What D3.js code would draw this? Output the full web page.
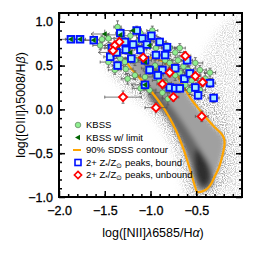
<!DOCTYPE html>
<html>
<head>
<meta charset="utf-8">
<script src="https://cdn.jsdelivr.net/npm/d3@7"></script>
<style>
  body { margin: 0; background: #fff; }
  svg { display: block; }
  text { font-family: "Liberation Sans", Arial, sans-serif; fill: #000; }
</style>
</head>
<body>
<div class="chart"></div>
<script>
var xDomain = [-2.0, 0.0];
var yDomain = [-1.0, 1.1];
var xTicks = [-2.0, -1.5, -1.0, -0.5];
var yTicks = [-1.0, -0.5, 0.0, 0.5, 1.0];

// SDSS locus, drawn as nested shaded outlines [x, y]
var sdssAgnHaze = [[-0.46,0.45],[-0.33,0.79],[-0.15,1.02],[0,1.09],[0,-1.0],[-0.15,-1.0],[-0.11,-0.47],[-0.19,-0.01]];
var sdssHaze = [[-1.46,0.64],[-1.28,0.67],[-1.01,0.69],[-0.62,0.60],[-0.40,0.40],[-0.22,0.04],[-0.09,-0.36],[-0.13,-0.78],[-0.28,-1.0],[-0.58,-1.0],[-0.65,-0.76],[-0.74,-0.47],[-0.86,-0.22],[-1.03,0.01],[-1.22,0.19],[-1.41,0.39],[-1.48,0.53]];
var sdssCore = [[-1.01,0.24],[-0.81,0.08],[-0.62,-0.19],[-0.46,-0.45],[-0.33,-0.68],[-0.32,-0.86],[-0.43,-0.93],[-0.50,-0.85],[-0.57,-0.59],[-0.68,-0.34],[-0.84,-0.07],[-1.03,0.15]];
var sdssPeak = [[-0.50,-0.45],[-0.38,-0.62],[-0.35,-0.79],[-0.41,-0.88],[-0.48,-0.81],[-0.52,-0.60]];
var sdssContour90 = [[-1.25,0.54],[-1.11,0.35],[-0.98,0.19],[-0.84,-0.01],[-0.73,-0.22],[-0.64,-0.45],[-0.57,-0.68],[-0.51,-0.89],[-0.49,-0.94],[-0.40,-0.92],[-0.35,-0.87],[-0.30,-0.77],[-0.25,-0.66],[-0.21,-0.51],[-0.19,-0.37],[-0.21,-0.30],[-0.33,-0.17],[-0.46,-0.01],[-0.57,0.14],[-0.64,0.27],[-0.73,0.42],[-0.79,0.50],[-0.95,0.58],[-1.11,0.59]];

// KBSS detections [x, y, xerr, yerr]
var kbss = [[-1.36,0.94,0.04,0.07],[-1.11,0.87,0.08,0.05],[-1.53,0.80,0.10,0.04],[-1.46,0.81,0.06,0.05],[-1.31,0.81,0.08,0.04],[-1.22,0.84,0.07,0.05],[-1.55,0.73,0.08,0.05],[-1.44,0.70,0.10,0.06],[-1.27,0.46,0.08,0.06],[-1.06,0.37,0.10,0.06],[-1.14,0.77,0.06,0.05],[-1.03,0.79,0.07,0.05],[-0.92,0.77,0.09,0.06],[-0.94,0.70,0.06,0.05],[-0.79,0.70,0.08,0.05],[-0.68,0.70,0.06,0.05],[-0.73,0.65,0.09,0.06],[-0.84,0.56,0.07,0.05],[-0.79,0.53,0.08,0.05],[-0.70,0.56,0.06,0.05],[-0.95,0.50,0.08,0.06],[-1.03,0.47,0.07,0.05],[-0.64,0.49,0.07,0.06],[-0.59,0.45,0.06,0.05],[-0.51,0.53,0.08,0.06],[-0.46,0.45,0.07,0.05],[-0.73,0.39,0.08,0.06],[-0.68,0.42,0.06,0.05],[-0.90,0.33,0.08,0.06],[-0.84,0.30,0.07,0.05],[-0.62,0.28,0.09,0.06],[-0.57,0.22,0.07,0.05],[-0.46,0.22,0.06,0.05],[-0.40,0.35,0.08,0.06],[-0.87,0.19,0.08,0.06],[-0.81,0.12,0.06,0.07],[-1.01,0.22,0.07,0.05],[-1.11,0.24,0.09,0.06],[-1.33,0.58,0.07,0.05],[-1.28,0.54,0.06,0.05],[-1.17,0.56,0.08,0.06],[-1.39,0.45,0.07,0.05],[-1.46,0.54,0.09,0.06],[-1.25,0.35,0.07,0.06],[-1.17,0.39,0.06,0.05],[-0.98,0.90,0.06,0.05],[-0.55,0.33,0.07,0.05],[-0.35,0.42,0.06,0.05]];
// KBSS with [NII] upper limit [x, y, yerr]
var kbssLimit = [[-1.50,0.86,0.05],[-1.87,0.80,0.03],[-1.77,0.80,0.03],[-1.62,0.79,0.04],[-1.36,0.73,0.05],[-1.42,0.65,0.05],[-1.33,0.85,0.04],[-1.19,0.90,0.05],[-1.01,0.73,0.05],[-1.22,0.65,0.05],[-1.06,0.54,0.05],[-1.06,0.28,0.06]];
// 2+ Z*/Zsun peaks, bound [x, y, xerr, yerr]
var bound = [[-1.87,0.80,0.06,0.03],[-1.77,0.80,0.06,0.03],[-1.62,0.79,0.12,0.04],[-1.33,0.87,0.05,0.05],[-1.42,0.70,0.08,0.05],[-1.44,0.60,0.07,0.05],[-1.36,0.50,0.06,0.05],[-1.27,0.68,0.07,0.05],[-1.19,0.74,0.06,0.04],[-1.11,0.68,0.07,0.05],[-1.21,0.58,0.06,0.05],[-1.06,0.56,0.07,0.05],[-0.99,0.84,0.06,0.06],[-0.90,0.77,0.07,0.05],[-0.82,0.71,0.06,0.05],[-1.01,0.45,0.07,0.05],[-0.87,0.45,0.06,0.05],[-0.73,0.47,0.07,0.05],[-0.60,0.56,0.06,0.05],[-0.63,0.35,0.06,0.05],[-0.57,0.41,0.06,0.05],[-0.79,0.25,0.06,0.05],[-0.73,0.24,0.05,0.05],[-0.68,0.24,0.06,0.05],[-0.51,0.25,0.07,0.05],[-0.35,0.30,0.06,0.05],[-0.48,0.16,0.07,0.05],[-1.06,0.28,0.05,0.05],[-1.09,0.81,0.06,0.05],[-1.15,0.90,0.05,0.05],[-0.94,0.62,0.06,0.05],[-0.84,0.62,0.06,0.05],[-1.28,0.77,0.06,0.05],[-1.37,0.65,0.06,0.05],[-1.04,0.74,0.06,0.05],[-0.92,0.39,0.06,0.05],[-0.31,0.13,0.06,0.05]];
// 2+ Z*/Zsun peaks, unbound [x, y, xerr, yerr]
var unbound = [[-1.30,0.14,0.20,0.07],[-0.94,0.02,0.12,0.06],[-0.75,0.14,0.06,0.05],[-0.51,0.38,0.06,0.05],[-0.43,0.31,0.06,0.05],[-0.44,-0.08,0.07,0.06],[-0.62,0.61,0.06,0.05],[-1.39,0.73,0.05,0.05],[-1.34,0.77,0.05,0.05],[-1.41,0.67,0.05,0.05],[-1.08,0.59,0.05,0.05],[-0.79,0.42,0.05,0.05],[-0.87,0.29,0.06,0.05]];

var legendRows = ["kbss", "limit", "contour", "bound", "unbound"];

var width = 256, height = 256;
var plot = { left: 59, right: 242, top: 13, bottom: 197 };

var svg = d3.select('.chart')
  .append('svg')
    .attr('width', width)
    .attr('height', height);

var x = d3.scaleLinear().domain(xDomain).range([plot.left, plot.right]);
var y = d3.scaleLinear().domain(yDomain).range([plot.bottom, plot.top]);

var defs = svg.append('defs');
defs.append('clipPath').attr('id', 'clip')
  .append('rect')
    .attr('x', plot.left).attr('y', plot.top)
    .attr('width', plot.right - plot.left).attr('height', plot.bottom - plot.top);
defs.append('filter').attr('id', 'soft')
    .attr('x', '-20%').attr('y', '-20%').attr('width', '140%').attr('height', '140%')
  .append('feGaussianBlur').attr('stdDeviation', 2.5);

// dotted look of the sparse SDSS outskirts
var speckle = defs.append('filter').attr('id', 'speckle')
  .attr('x', '-20%').attr('y', '-20%').attr('width', '140%').attr('height', '140%');
speckle.append('feTurbulence').attr('type', 'fractalNoise').attr('baseFrequency', 0.9)
  .attr('numOctaves', 1).attr('seed', 4).attr('result', 'noise');
speckle.append('feColorMatrix').attr('in', 'noise').attr('type', 'matrix')
  .attr('values', '0 0 0 0 0  0 0 0 0 0  0 0 0 0 0  4 0 0 0 -1.7').attr('result', 'mask');
speckle.append('feGaussianBlur').attr('in', 'SourceGraphic').attr('stdDeviation', 4).attr('result', 'b');
speckle.append('feComposite').attr('in', 'b').attr('in2', 'mask').attr('operator', 'in');

var outline = d3.line().x(d => x(d[0])).y(d => y(d[1])).curve(d3.curveCatmullRomClosed);

var g = svg.append('g').attr('clip-path', 'url(#clip)');

// SDSS shading
var haze = g.append('g').attr('filter', 'url(#speckle)');
haze.append('path').datum(sdssAgnHaze).attr('d', outline).attr('fill', '#d2d2d2');
haze.append('path').datum(sdssHaze).attr('d', outline).attr('fill', '#a6a6a6');
var shade = g.append('g').attr('filter', 'url(#soft)');
shade.append('path').datum(sdssContour90).attr('d', outline).attr('fill', '#a0a0a0');
shade.append('path').datum(sdssCore).attr('d', outline).attr('fill', '#666');
shade.append('path').datum(sdssPeak).attr('d', outline).attr('fill', '#2e2e2e');

g.append('path').datum(sdssContour90)
  .attr('d', outline)
  .attr('fill', 'none')
  .attr('stroke', '#ffa500')
  .attr('stroke-width', 2.2);

// error bars
function errorBars(data) {
  var cap = 1.5;
  g.append('g')
    .attr('stroke', '#555')
    .attr('stroke-width', 0.8)
    .selectAll('path')
    .data(data)
    .enter().append('path')
      .attr('fill', 'none')
      .attr('d', function(d) {
        var cx = x(d[0]), cy = y(d[1]);
        var x0 = x(d[0] - d[2]), x1 = x(d[0] + d[2]);
        var y0 = y(d[1] - d[3]), y1 = y(d[1] + d[3]);
        return 'M' + x0 + ',' + cy + 'H' + x1 +
               'M' + x0 + ',' + (cy - cap) + 'V' + (cy + cap) +
               'M' + x1 + ',' + (cy - cap) + 'V' + (cy + cap) +
               'M' + cx + ',' + y0 + 'V' + y1 +
               'M' + (cx - cap) + ',' + y0 + 'H' + (cx + cap) +
               'M' + (cx - cap) + ',' + y1 + 'H' + (cx + cap);
      });
}

errorBars(kbss);
errorBars(bound);
errorBars(unbound);

// limit arrows pointing to lower [NII]
g.append('g')
  .attr('stroke', '#555')
  .attr('stroke-width', 0.8)
  .attr('fill', 'none')
  .selectAll('path')
  .data(kbssLimit)
  .enter().append('path')
    .attr('d', function(d) {
      var cx = x(d[0]), cy = y(d[1]), tip = x(d[0] - 0.15);
      return 'M' + cx + ',' + cy + 'H' + tip +
             'M' + (tip + 3) + ',' + (cy - 2.2) + 'L' + tip + ',' + cy + 'L' + (tip + 3) + ',' + (cy + 2.2) +
             'M' + cx + ',' + y(d[1] - d[2]) + 'V' + y(d[1] + d[2]);
    });

var triangle = 'M-3,0L2,-2.8L2,2.8Z';

g.append('g').selectAll('circle')
  .data(kbss)
  .enter().append('circle')
    .attr('cx', d => x(d[0]))
    .attr('cy', d => y(d[1]))
    .attr('r', 2.8)
    .attr('fill', '#90ee90')
    .attr('stroke', '#4a6a4a')
    .attr('stroke-width', 0.6);

g.append('g').selectAll('rect')
  .data(bound)
  .enter().append('rect')
    .attr('x', d => x(d[0]) - 3.3)
    .attr('y', d => y(d[1]) - 3.3)
    .attr('width', 6.6)
    .attr('height', 6.6)
    .attr('fill', '#a8ecff')
    .attr('stroke', '#0010ff')
    .attr('stroke-width', 1.9);

g.append('g').selectAll('path')
  .data(kbssLimit)
  .enter().append('path')
    .attr('transform', d => 'translate(' + x(d[0]) + ',' + y(d[1]) + ')')
    .attr('d', triangle)
    .attr('fill', '#006400');

g.append('g').selectAll('path')
  .data(unbound)
  .enter().append('path')
    .attr('transform', d => 'translate(' + x(d[0]) + ',' + y(d[1]) + ')')
    .attr('d', 'M0,-4L4,0L0,4L-4,0Z')
    .attr('fill', '#fff')
    .attr('stroke', '#ff0000')
    .attr('stroke-width', 1.9);

// axes, ticks inward on all four sides
function drawAxis(axis, transform, labels) {
  var a = svg.append('g').attr('transform', transform).call(axis);
  a.select('.domain').remove();
  a.selectAll('line').attr('stroke', '#000').attr('stroke-width', 1.5);
  a.selectAll('text')
    .style('font-size', '12.5px')
    .style('font-family', '"Liberation Sans", Arial, sans-serif')
    .attr('stroke', '#000').attr('stroke-width', 0.3);
  if (!labels) a.selectAll('text').remove();
  return a;
}

var fmt = d3.format('.1f');
var xMinor = d3.range(-19, 0).map(v => v / 10);
var yMinor = d3.range(-9, 11).map(v => v / 10);

drawAxis(d3.axisBottom(x).tickValues(xMinor).tickSize(-3).tickFormat(''), 'translate(0,' + plot.bottom + ')', false);
drawAxis(d3.axisBottom(x).tickValues(xTicks).tickSize(-6).tickPadding(9).tickFormat(fmt), 'translate(0,' + plot.bottom + ')', true);
drawAxis(d3.axisTop(x).tickValues(xMinor).tickSize(-3).tickFormat(''), 'translate(0,' + plot.top + ')', false);
drawAxis(d3.axisTop(x).tickValues(xTicks).tickSize(-6).tickFormat(''), 'translate(0,' + plot.top + ')', false);
drawAxis(d3.axisLeft(y).tickValues(yMinor).tickSize(-3).tickFormat(''), 'translate(' + plot.left + ',0)', false);
drawAxis(d3.axisLeft(y).tickValues(yTicks).tickSize(-6).tickPadding(6).tickFormat(fmt), 'translate(' + plot.left + ',0)', true);
drawAxis(d3.axisRight(y).tickValues(yMinor).tickSize(-3).tickFormat(''), 'translate(' + plot.right + ',0)', false);
drawAxis(d3.axisRight(y).tickValues(yTicks).tickSize(-6).tickFormat(''), 'translate(' + plot.right + ',0)', false);

svg.append('rect')
  .attr('x', plot.left).attr('y', plot.top)
  .attr('width', plot.right - plot.left).attr('height', plot.bottom - plot.top)
  .attr('fill', 'none')
  .attr('stroke', '#000')
  .attr('stroke-width', 2);

// axis titles
var xt = svg.append('text')
  .attr('x', 153).attr('y', 237)
  .attr('text-anchor', 'middle')
  .style('font-size', '12.5px');
xt.append('tspan').text('log([NII]');
xt.append('tspan').style('font-style', 'italic').text('λ');
xt.append('tspan').text('6585/H');
xt.append('tspan').style('font-style', 'italic').text('α');
xt.append('tspan').text(')');

var yt = svg.append('text')
  .attr('transform', 'translate(25,105) rotate(-90)')
  .attr('text-anchor', 'middle')
  .style('font-size', '12.5px');
yt.append('tspan').text('log([OIII]');
yt.append('tspan').style('font-style', 'italic').text('λ');
yt.append('tspan').text('5008/H');
yt.append('tspan').style('font-style', 'italic').text('β');
yt.append('tspan').text(')');

// legend
var ly = d3.scalePoint().domain(legendRows).range([125, 175]);
var leg = svg.append('g');
var sx = 78, tx = 86;

leg.append('circle').attr('cx', sx).attr('cy', ly('kbss')).attr('r', 2.8)
  .attr('fill', '#90ee90').attr('stroke', '#4a6a4a').attr('stroke-width', 0.6);
leg.append('path').attr('transform', 'translate(' + sx + ',' + ly('limit') + ')')
  .attr('d', triangle).attr('fill', '#006400');
leg.append('line').attr('x1', sx - 5).attr('x2', sx + 3)
  .attr('y1', ly('contour')).attr('y2', ly('contour'))
  .attr('stroke', '#ffa500').attr('stroke-width', 2);
leg.append('rect').attr('x', sx - 3).attr('y', ly('bound') - 3).attr('width', 6).attr('height', 6)
  .attr('fill', '#fff').attr('stroke', '#0010ff').attr('stroke-width', 1.6);
leg.append('path').attr('transform', 'translate(' + sx + ',' + ly('unbound') + ')')
  .attr('d', 'M0,-3.6L3.6,0L0,3.6L-3.6,0Z')
  .attr('fill', '#fff').attr('stroke', '#ff0000').attr('stroke-width', 1.6);

function legendText(row) {
  return leg.append('text').attr('x', tx).attr('y', ly(row)).attr('dy', '0.35em').style('font-size', '9.5px');
}
legendText('kbss').text('KBSS');
legendText('limit').text('KBSS w/ limit');
legendText('contour').text('90% SDSS contour');
['bound', 'unbound'].forEach(function(row) {
  var t = legendText(row);
  t.append('tspan').text('2+ Z');
  t.append('tspan').attr('dy', '2').style('font-size', '6.5px').text('*');
  t.append('tspan').attr('dy', '-2').text('/Z');
  t.append('tspan').attr('dy', '2').style('font-size', '6.5px').text('⊙');
  t.append('tspan').attr('dy', '-2').text(' peaks, ' + row);
});
</script>
</body>
</html>
